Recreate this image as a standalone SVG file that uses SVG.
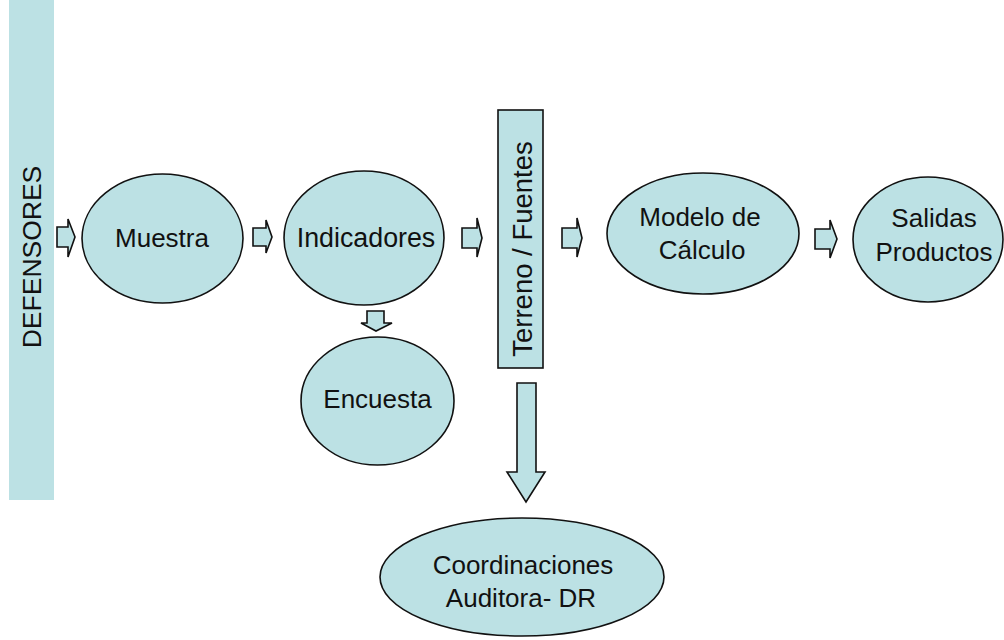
<svg xmlns="http://www.w3.org/2000/svg" width="1004" height="640" viewBox="0 0 1004 640">
<style>
.n{fill:#bce1e4;stroke:#111;stroke-width:1.6}
.a{fill:#bce1e4;stroke:#111;stroke-width:1.6;stroke-linejoin:miter}
.t{font-family:"Liberation Sans",Arial,sans-serif;font-size:26px;fill:#111;text-anchor:middle}
</style>
<rect x="0" y="0" width="1004" height="640" fill="#fff"/>
<g id="defensores">
<rect x="9" y="0" width="45" height="500" fill="#bce1e4"/>
<text class="t" style="font-size:26.5px" transform="translate(41,257) rotate(-90)">DEFENSORES</text>
</g>
<g id="muestra">
<ellipse class="n" cx="162.5" cy="238.5" rx="80.5" ry="64.5"/>
<text class="t" x="162" y="247">Muestra</text>
</g>
<g id="indicadores">
<ellipse class="n" cx="364" cy="238" rx="80" ry="67"/>
<text class="t" style="font-size:26.8px" x="366" y="247">Indicadores</text>
</g>
<g id="encuesta">
<ellipse class="n" cx="377.5" cy="401" rx="76.5" ry="64"/>
<text class="t" x="377.5" y="408">Encuesta</text>
</g>
<g id="terreno">
<rect class="n" x="498" y="110" width="45" height="258"/>
<text class="t" style="font-size:27.5px" transform="translate(532,249) rotate(-90)">Terreno / Fuentes</text>
</g>
<g id="modelo">
<ellipse class="n" cx="703" cy="233.5" rx="96" ry="60.5"/>
<text class="t" x="700" y="226">Modelo de</text>
<text class="t" x="702" y="259">Cálculo</text>
</g>
<g id="salidas">
<ellipse class="n" cx="928" cy="239.5" rx="75" ry="62.5"/>
<text class="t" x="934" y="227">Salidas</text>
<text class="t" x="934" y="261">Productos</text>
</g>
<g id="coordinaciones">
<ellipse class="n" cx="522" cy="577" rx="142" ry="59"/>
<text class="t" x="523" y="574">Coordinaciones</text>
<text class="t" x="521" y="607">Auditora- DR</text>
</g>
<g id="connectors">
<path class="a" d="M57,227 H68 V219 L75,237 L68,257 V247 H57 Z"/>
<path class="a" d="M253,228 H266 V220 L272,237 L266,253 V246 H253 Z"/>
<path class="a" d="M462,228 H477 V218 L482,238 L477,257 V248 H462 Z"/>
<path class="a" d="M562,228 H577 V218 L582,238 L577,257 V248 H562 Z"/>
<path class="a" d="M815,229 H830 V220 L837,239 L830,258 V249 H815 Z"/>
<path class="a" d="M367,311 H384 V323 H392 L376,331 L361,323 H367 Z"/>
<path class="a" d="M517,383 H536 V472 H545 L526,502 L507,472 H517 Z"/>
</g>
</svg>
